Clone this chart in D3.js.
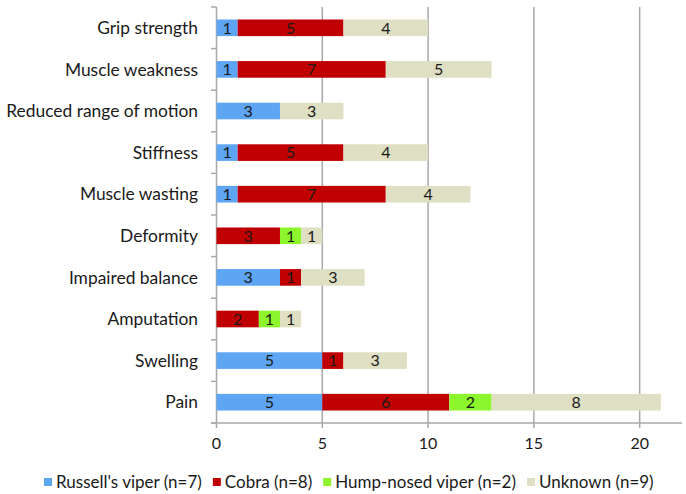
<!DOCTYPE html>
<html><head><meta charset="utf-8">
<script src="https://cdn.jsdelivr.net/npm/d3@7"></script>
<style>body{margin:0;background:#fff;} svg{display:block;font-family:Lato,"Open Sans",sans-serif;}</style>
</head><body>
<svg id="c" width="686" height="494"></svg>
<script>
const categories = ["Grip strength","Muscle weakness","Reduced range of motion","Stiffness","Muscle wasting","Deformity","Impaired balance","Amputation","Swelling","Pain"];
const russellsViper = [1,1,3,1,1,0,3,0,5,5];
const cobra = [5,7,0,5,7,3,1,2,1,6];
const humpNosedViper = [0,0,0,0,0,1,0,1,0,2];
const unknown = [4,5,3,4,4,1,3,1,3,8];
const seriesNames = ["Russell's viper (n=7)","Cobra (n=8)","Hump-nosed viper (n=2)","Unknown (n=9)"];
const seriesColors = ["#5EA5F4","#C00000","#8CF52B","#DFDFC4"];
const xTicks = [0,5,10,15,20];

const svg = d3.select("#c");
const x = d3.scaleLinear().domain([0,22]).range([216.5,682]);
const y = d3.scaleBand().domain(categories).range([7,423]).paddingInner(0.6).paddingOuter(0.3);
const gridCol = "#A8A8A8";

// gridlines
svg.append("g").selectAll("line").data(xTicks).join("line")
  .attr("x1",d=>x(d)).attr("x2",d=>x(d)).attr("y1",7).attr("y2",428)
  .attr("stroke",gridCol).attr("stroke-width",1.5);

// y axis ticks at boundaries
const step = y.step();
const bounds = d3.range(categories.length+1).map(i=>7+i*step);
svg.append("g").selectAll("line").data(bounds).join("line")
  .attr("x1",211).attr("x2",x(0)).attr("y1",d=>d).attr("y2",d=>d)
  .attr("stroke",gridCol).attr("stroke-width",1.5);
// x axis line
svg.append("line").attr("x1",211).attr("x2",682).attr("y1",423).attr("y2",423)
  .attr("stroke",gridCol).attr("stroke-width",1.5);

// stack
const rows = categories.map((c,i)=>({cat:c, s0:russellsViper[i], s1:cobra[i], s2:humpNosedViper[i], s3:unknown[i]}));
const stack = d3.stack().keys(["s0","s1","s2","s3"])(rows);
const g = svg.append("g");
stack.forEach((layer,k)=>{
  layer.forEach(d=>{
    const v = d[1]-d[0];
    if(v<=0) return;
    g.append("rect").attr("x",x(d[0])).attr("y",y(d.data.cat))
      .attr("width",x(d[1])-x(d[0])).attr("height",y.bandwidth())
      .attr("fill",seriesColors[k]);
    g.append("text").attr("x",(x(d[0])+x(d[1]))/2).attr("y",y(d.data.cat)+y.bandwidth()/2)
      .attr("dy","0.36em").attr("text-anchor","middle").attr("font-size",16)
      .attr("fill","#1a1a1a").text(v);
  });
});

// category labels
svg.append("g").selectAll("text").data(categories).join("text")
  .attr("x",198).attr("y",d=>y(d)+y.bandwidth()/2).attr("dy","0.36em")
  .attr("text-anchor","end").attr("font-size",17.4).attr("fill","#1a1a1a").text(d=>d);

// x tick labels
svg.append("g").selectAll("text").data(xTicks).join("text")
  .attr("x",d=>x(d)).attr("y",443).attr("dy","0.36em")
  .attr("text-anchor","middle").attr("font-size",16).attr("fill","#1a1a1a").text(d=>d);

// legend
const lg = svg.append("g");
let lx = 44;
seriesNames.forEach((n,i)=>{
  lg.append("rect").attr("x",lx).attr("y",478).attr("width",8).attr("height",8).attr("fill",seriesColors[i]);
  const t = lg.append("text").attr("x",lx+12).attr("y",482).attr("dy","0.36em")
    .attr("font-size",17).attr("fill","#1a1a1a").text(n);
  lx += 12 + t.node().getComputedTextLength() + 11;
});
</script>
</body></html>
